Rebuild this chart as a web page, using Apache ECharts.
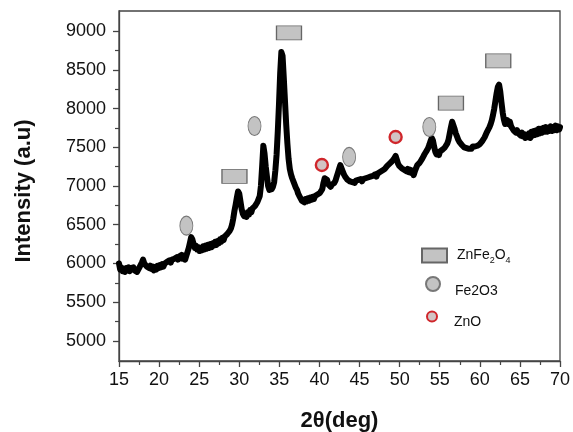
<!DOCTYPE html>
<html>
<head>
<meta charset="utf-8">
<script src="https://cdn.jsdelivr.net/npm/echarts@6/dist/echarts.min.js"></script>
<style>html,body{margin:0;padding:0;background:#fff}#c{width:573px;height:432px}</style>
</head>
<body>
<div id="c"></div>
<script>
// XRD pattern: [2θ (deg), intensity (a.u)]
const xrdPoints = [
[15.0,6000],[15.15,5920],[15.3,5950],[15.45,5900],[15.6,5930],[15.75,5890],[15.9,5940],[16.05,5910],[16.2,5950],[16.35,5900],
[16.5,5940],[16.65,5920],[16.8,5950],[16.95,5910],[17.1,5930],[17.25,5890],[17.4,5920],[17.55,5950],[17.7,5970],[17.85,6010],
[18.0,6050],[18.15,6000],[18.3,5990],[18.45,5960],[18.6,5980],[18.75,5940],[18.9,5970],[19.05,5930],[19.2,5960],[19.35,5910],
[19.5,5950],[19.65,5920],[19.8,5970],[19.95,5940],[20.1,5980],[20.25,5950],[20.4,5990],[20.55,5960],[20.7,6000],[20.85,5980],
[21.0,6020],[21.15,6000],[21.3,6040],[21.45,6010],[21.6,6050],[21.75,6030],[21.9,6060],[22.05,6040],[22.2,6080],[22.35,6050],
[22.5,6090],[22.65,6070],[22.8,6110],[22.95,6060],[23.1,6100],[23.25,6050],[23.4,6100],[23.55,6150],[23.7,6200],[23.85,6270],
[24.0,6340],[24.15,6310],[24.3,6250],[24.45,6200],[24.6,6230],[24.75,6180],[24.9,6210],[25.05,6160],[25.2,6200],[25.35,6170],
[25.5,6220],[25.65,6180],[25.8,6230],[25.95,6190],[26.1,6240],[26.25,6200],[26.4,6250],[26.55,6210],[26.7,6260],[26.85,6230],
[27.0,6280],[27.15,6240],[27.3,6290],[27.45,6260],[27.6,6310],[27.75,6280],[27.9,6330],[28.05,6300],[28.2,6350],[28.35,6330],
[28.5,6380],[28.65,6370],[28.8,6420],[28.95,6450],[29.1,6500],[29.25,6580],[29.4,6680],[29.55,6760],[29.7,6850],[29.85,6930],
[30.0,6900],[30.15,6800],[30.3,6700],[30.45,6640],[30.6,6610],[30.75,6640],[30.9,6600],[31.05,6660],[31.2,6630],[31.35,6690],
[31.5,6660],[31.65,6710],[31.8,6690],[31.95,6740],[32.1,6720],[32.25,6790],[32.4,6800],[32.55,6870],[32.7,7000],[32.85,7250],
[33.0,7520],[33.15,7420],[33.3,7250],[33.45,7120],[33.6,7000],[33.75,6950],[33.9,6940],[34.05,6960],[34.2,6990],[34.35,7050],
[34.5,7200],[34.65,7400],[34.8,7700],[34.95,8050],[35.1,8450],[35.25,8730],[35.4,8680],[35.55,8400],[35.7,8100],[35.85,7800],
[36.0,7550],[36.15,7350],[36.3,7220],[36.45,7150],[36.6,7100],[36.75,7060],[36.9,7050],[37.05,6980],[37.2,6950],[37.35,6900],
[37.5,6870],[37.65,6840],[37.8,6810],[37.95,6830],[38.1,6790],[38.25,6830],[38.4,6800],[38.55,6840],[38.7,6810],[38.85,6850],
[39.0,6820],[39.15,6860],[39.3,6830],[39.45,6870],[39.6,6850],[39.75,6890],[39.9,6870],[40.05,6910],[40.2,6900],[40.35,6960],
[40.5,7040],[40.65,7100],[40.8,7120],[40.95,7080],[41.1,7020],[41.25,7000],[41.4,6990],[41.55,7020],[41.7,7000],[41.85,7040],
[42.0,7070],[42.15,7120],[42.3,7170],[42.45,7220],[42.6,7270],[42.75,7250],[42.9,7190],[43.05,7150],[43.2,7120],[43.35,7110],
[43.5,7080],[43.65,7100],[43.8,7060],[43.95,7080],[44.1,7050],[44.25,7070],[44.4,7040],[44.55,7070],[44.7,7050],[44.85,7080],
[45.0,7060],[45.15,7090],[45.3,7060],[45.45,7090],[45.6,7070],[45.75,7100],[45.9,7080],[46.05,7110],[46.2,7090],[46.35,7120],
[46.5,7100],[46.65,7130],[46.8,7110],[46.95,7150],[47.1,7120],[47.25,7160],[47.4,7140],[47.55,7180],[47.7,7160],[47.85,7200],
[48.0,7180],[48.15,7220],[48.3,7210],[48.45,7260],[48.6,7240],[48.75,7290],[48.9,7280],[49.05,7320],[49.2,7310],[49.35,7360],
[49.5,7390],[49.65,7340],[49.8,7290],[49.95,7260],[50.1,7280],[50.25,7230],[50.4,7250],[50.55,7210],[50.7,7230],[50.85,7190],
[51.0,7220],[51.15,7180],[51.3,7210],[51.45,7170],[51.6,7200],[51.75,7140],[51.9,7190],[52.05,7230],[52.2,7270],[52.35,7250],
[52.5,7300],[52.65,7290],[52.8,7350],[52.95,7380],[53.1,7410],[53.25,7400],[53.4,7460],[53.55,7490],[53.7,7530],[53.85,7580],
[54.0,7620],[54.15,7590],[54.3,7510],[54.45,7440],[54.6,7410],[54.75,7440],[54.9,7400],[55.05,7450],[55.2,7430],[55.35,7470],
[55.5,7460],[55.65,7500],[55.8,7510],[55.95,7550],[56.1,7600],[56.25,7680],[56.4,7760],[56.55,7830],[56.7,7810],[56.85,7740],
[57.0,7680],[57.15,7640],[57.3,7600],[57.45,7570],[57.6,7550],[57.75,7530],[57.9,7520],[58.05,7500],[58.2,7510],[58.35,7490],
[58.5,7500],[58.65,7480],[58.8,7500],[58.95,7480],[59.1,7510],[59.25,7490],[59.4,7510],[59.55,7500],[59.7,7520],[59.85,7510],
[60.0,7540],[60.15,7550],[60.3,7580],[60.45,7590],[60.6,7630],[60.75,7650],[60.9,7700],[61.05,7720],[61.2,7760],[61.35,7800],
[61.5,7850],[61.65,7920],[61.8,8000],[61.95,8100],[62.1,8200],[62.25,8280],[62.4,8310],[62.55,8220],[62.7,8080],[62.85,7950],
[63.0,7860],[63.15,7800],[63.3,7820],[63.45,7850],[63.6,7800],[63.75,7830],[63.9,7770],[64.05,7760],[64.2,7720],[64.35,7740],
[64.5,7690],[64.65,7720],[64.8,7680],[64.95,7700],[65.1,7650],[65.25,7690],[65.4,7640],[65.55,7670],[65.7,7620],[65.85,7660],
[66.0,7630],[66.15,7680],[66.3,7620],[66.45,7700],[66.6,7650],[66.75,7710],[66.9,7660],[67.05,7720],[67.2,7670],[67.35,7740],
[67.5,7680],[67.65,7740],[67.8,7690],[67.95,7750],[68.1,7700],[68.25,7760],[68.4,7700],[68.55,7750],[68.7,7710],[68.85,7770],
[69.0,7710],[69.15,7760],[69.3,7720],[69.45,7780],[69.6,7720],[69.75,7770],[69.9,7730],[70.0,7760]
];

// phase markers [2θ, intensity]
const znFe2O4Marks = [[29.4,7125],[36.2,8976],[56.4,8069],[62.3,8617]];
const fe2o3Marks = [[23.4,6487],[31.9,7775],[43.7,7375],[53.7,7762]];
const znoMarks = [[40.3,7271],[49.5,7633]];

const xTicks = [15,20,25,30,35,40,45,50,55,60,65,70];
const yTicks = [5000,5500,6000,6500,7000,7500,8000,8500,9000];
const yMinorTicks = [5250,5750,6250,6750,7250,7750,8250,8750];

const FONT = '"Liberation Sans", Arial, Helvetica, sans-serif';
const ellipsePath = 'path://M50,0 A50,50 0 1,1 50,100 A50,50 0 1,1 50,0 Z';
const grayFill = '#c3c3c3';

const chart = echarts.init(document.getElementById('c'), null, {renderer: 'canvas'});

chart.setOption({
  backgroundColor: '#fff',
  animation: false,
  textStyle: {fontFamily: FONT},
  grid: {left: 119, right: 13, top: 11, bottom: 71, show: true, borderColor: '#444', borderWidth: 1.3,
         backgroundColor: '#fff', containLabel: false, outerBoundsMode: 'none'},
  xAxis: {
    type: 'value', min: 15, max: 70, interval: 5,
    name: '2θ(deg)', nameLocation: 'middle', nameGap: 49,
    nameTextStyle: {fontFamily: FONT, fontSize: 22, fontWeight: 'bold', color: '#111'},
    axisLine: {show: true, onZero: false, lineStyle: {color: '#444', width: 1.3}},
    axisTick: {show: true, inside: false, length: 6, lineStyle: {color: '#444', width: 1.3}},
    minorTick: {show: true, splitNumber: 2, length: 4, lineStyle: {color: '#444', width: 1.2}},
    axisLabel: {fontFamily: FONT, fontSize: 18, color: '#111', margin: 10, customValues: xTicks, formatter: v => String(v)},
    splitLine: {show: false}
  },
  yAxis: [{
    type: 'value', min: 4740, max: 9260,
    name: 'Intensity (a.u)', nameLocation: 'middle', nameGap: 84,
    nameTextStyle: {fontFamily: FONT, fontSize: 22, fontWeight: 'bold', color: '#111', padding: [0, 10, 0, 0]},
    axisLine: {show: true, onZero: false, lineStyle: {color: '#444', width: 1.3}},
    axisTick: {show: true, inside: false, length: 6, customValues: yTicks, lineStyle: {color: '#444', width: 1.3}},
    axisLabel: {fontFamily: FONT, fontSize: 18, color: '#111', margin: 13, customValues: yTicks, formatter: v => String(v)},
    splitLine: {show: false}
  }, {
    type: 'value', min: 4740, max: 9260, position: 'left',
    axisLine: {show: false},
    axisTick: {show: true, inside: false, length: 4, customValues: yMinorTicks, lineStyle: {color: '#444', width: 1.2}},
    axisLabel: {show: false},
    splitLine: {show: false}
  }],
  legend: [{
    data: ['ZnFe2O4'], orient: 'vertical', left: 421, top: 246, padding: 0,
    itemWidth: 25, itemHeight: 14,
    formatter: () => '{a|ZnFe}{s|2}{a|O}{s|4}',
    textStyle: {fontFamily: FONT, color: '#111', padding: [0,0,0,5],
      rich: {a: {fontFamily: FONT, fontSize: 14, lineHeight: 16, color: '#111'},
             s: {fontFamily: FONT, fontSize: 9, lineHeight: 9, padding: [10,0,0,0], color: '#111'}}}
  }, {
    data: [{name: 'Fe2O3', icon: ellipsePath}], orient: 'vertical', left: 425, top: 270, padding: 0,
    itemWidth: 14, itemHeight: 16,
    formatter: () => '{a|Fe2O3}',
    textStyle: {fontFamily: FONT, fontSize: 14, color: '#111', padding: [0,0,0,10],
      rich: {a: {fontFamily: FONT, fontSize: 14, lineHeight: 16, padding: [14,0,0,0], color: '#111'}}}
  }, {
    data: [{name: 'ZnO', icon: ellipsePath}], orient: 'vertical', left: 426, top: 304, padding: 0,
    itemWidth: 10, itemHeight: 12,
    formatter: () => '{a|ZnO}',
    textStyle: {fontFamily: FONT, fontSize: 14, color: '#111', padding: [0,0,0,12],
      rich: {a: {fontFamily: FONT, fontSize: 14, lineHeight: 16, padding: [11,0,0,0], color: '#111'}}}
  }],
  series: [{
    name: 'XRD', type: 'line', data: xrdPoints, showSymbol: false, smooth: false,
    lineStyle: {color: '#000', width: 6, join: 'round', cap: 'round'},
    z: 2, silent: true
  }, {
    name: 'ZnFe2O4', type: 'scatter', data: znFe2O4Marks, symbol: 'rect', symbolSize: [25, 14],
    itemStyle: {color: grayFill, borderColor: '#666', borderWidth: 1, opacity: 1}, z: 3
  }, {
    name: 'Fe2O3', type: 'scatter', data: fe2o3Marks, symbol: ellipsePath, symbolSize: [13, 19],
    itemStyle: {color: grayFill, borderColor: '#777', borderWidth: 1, opacity: 1}, z: 3
  }, {
    name: 'ZnO', type: 'scatter', data: znoMarks, symbol: 'circle', symbolSize: 12,
    itemStyle: {color: '#d2c4c4', borderColor: '#d0262b', borderWidth: 2.4, opacity: 1}, z: 3
  }]
});
</script>
</body>
</html>
